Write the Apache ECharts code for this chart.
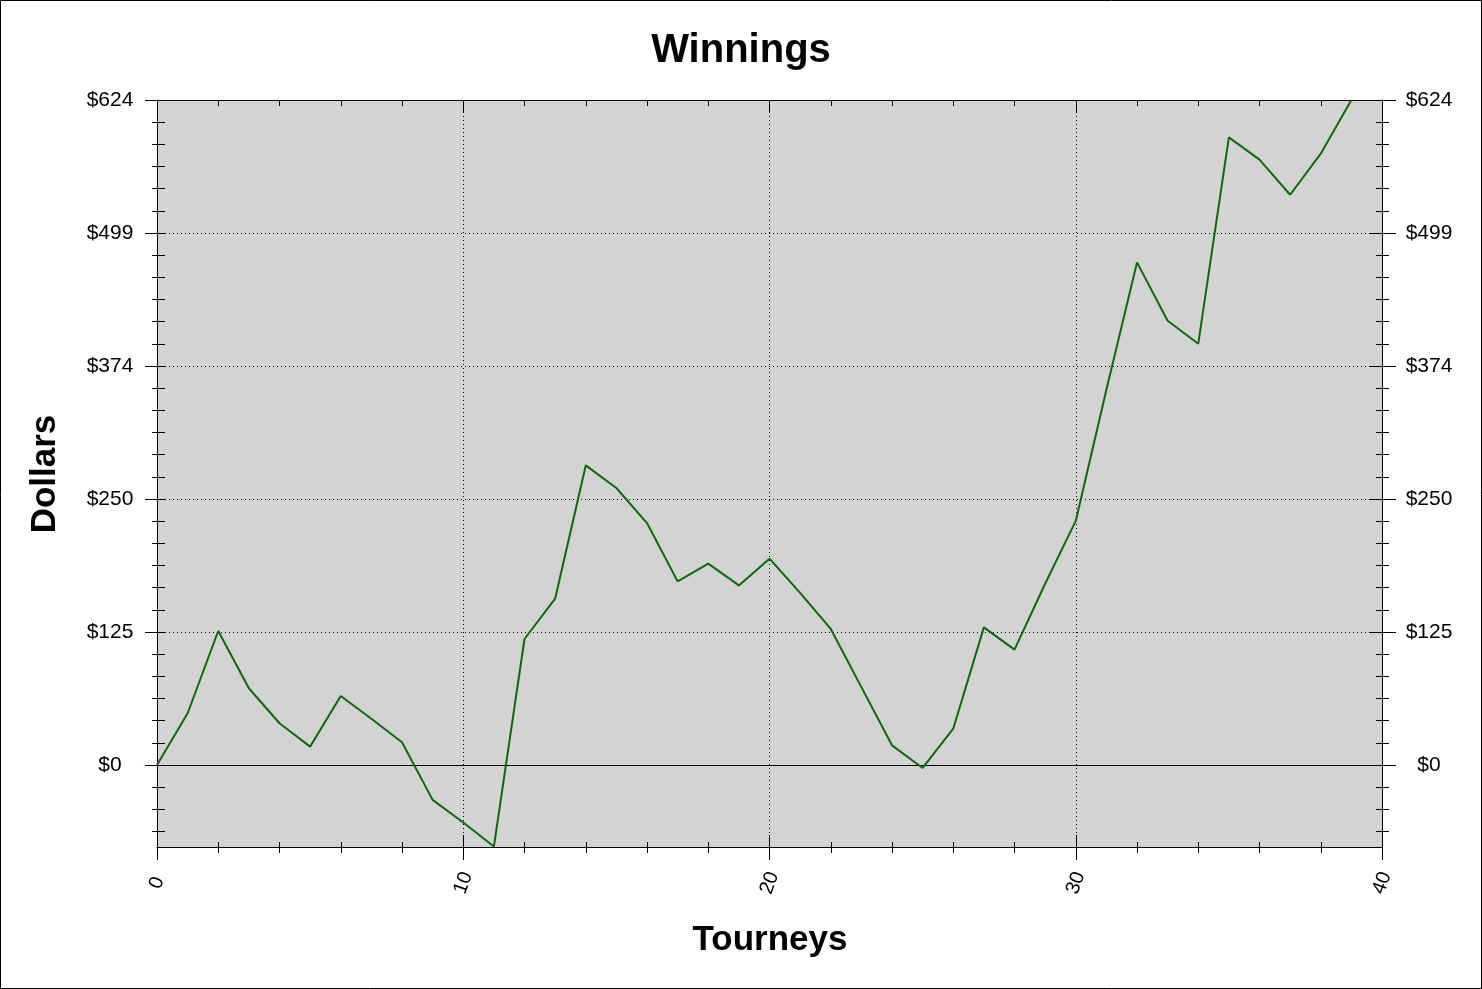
<!DOCTYPE html>
<html>
<head>
<meta charset="utf-8">
<script src="https://cdn.jsdelivr.net/npm/echarts@6/dist/echarts.min.js"></script>
<style>
html,body{margin:0;padding:0;background:#fff;}
#chart{width:1482px;height:989px;}
</style>
</head>
<body>
<div id="chart"></div>
<script>
// ---- data ----
const tourneys = [0,1,2,3,4,5,6,7,8,9,10,11,12,13,14,15,16,17,18,19,20,21,22,23,24,25,26,27,28,29,30,31,32,33,34,35,36,37,38,39];
const winnings = [0,48.5,125.7,72,39.1,17.2,64.7,43.3,21.3,-32.8,-54,-76.6,118.2,156,281.1,259.9,227,172.3,188.9,168.5,193.6,161.4,127.6,73,18.4,-2.8,34,129.1,108.2,170,229,352,471.6,416.9,395.3,588.9,568,535.1,573.6,624];
const yTickValues = [0,124.8,249.6,374.4,499.2,624];
const yTickLabels = ['$0','$125','$250','$374','$499','$624'];
const yMin = -77, yMax = 624;
const yMinorStep = 20.8;
const xMin = 0, xMax = 40, xMajor = 10, xMinor = 2;

const yMinorValues = [];
for (let k = Math.ceil(yMin / yMinorStep); k * yMinorStep <= yMax + 1e-6; k++) {
  if (k % 6 !== 0) yMinorValues.push(+(k * yMinorStep).toFixed(2));
}
const FONT = 'Arial, "Liberation Sans", sans-serif';
const lblFmt = v => {
  let best = 0, bd = Infinity;
  yTickValues.forEach((t, i) => { const d = Math.abs(t - v); if (d < bd) { bd = d; best = i; } });
  return yTickLabels[best];
};

function yAx(pos, opts) {
  return Object.assign({
    type: 'value', position: pos, min: yMin, max: yMax,
    axisLine: { show: false, onZero: false },
    axisLabel: { show: false },
    splitLine: { show: false },
    axisTick: { show: false }
  }, opts);
}
function xAx(pos, opts) {
  return Object.assign({
    type: 'value', position: pos, min: xMin, max: xMax,
    axisLine: { show: false, onZero: false },
    axisLabel: { show: false },
    splitLine: { show: false },
    axisTick: { show: false }
  }, opts);
}
const tickStyle = { color: '#000', width: 1 };

const yAxes = [
  yAx('left', {
    axisLine: { show: true, onZero: false, lineStyle: { color: '#000', width: 1 } },
    axisTick: { show: true, inside: false, length: 12, customValues: yTickValues, lineStyle: tickStyle },
    axisLabel: { show: true, customValues: yTickValues, formatter: lblFmt, color: '#000', fontSize: 21, fontFamily: FONT, align: 'center', margin: 47 },
    splitLine: { show: true, lineStyle: { color: '#000', width: 1, type: [1, 3] } }
  }),
  yAx('left', { axisTick: { show: true, inside: true, length: 8, customValues: yTickValues, lineStyle: tickStyle } }),
  yAx('left', { axisTick: { show: true, inside: false, length: 5, customValues: yMinorValues, lineStyle: tickStyle } }),
  yAx('left', { axisTick: { show: true, inside: true, length: 8, customValues: yMinorValues, lineStyle: tickStyle } }),
  yAx('right', {
    axisLine: { show: true, onZero: false, lineStyle: { color: '#000', width: 1 } },
    axisTick: { show: true, inside: false, length: 14, customValues: yTickValues, lineStyle: tickStyle },
    axisLabel: { show: true, customValues: yTickValues, formatter: lblFmt, color: '#000', fontSize: 21, fontFamily: FONT, align: 'center', margin: 47 }
  }),
  yAx('right', { axisTick: { show: true, inside: true, length: 12, customValues: yTickValues, lineStyle: tickStyle } }),
  yAx('right', { axisTick: { show: true, inside: false, length: 7, customValues: yMinorValues, lineStyle: tickStyle } }),
  yAx('right', { axisTick: { show: true, inside: true, length: 6, customValues: yMinorValues, lineStyle: tickStyle } })
];

const xAxes = [
  xAx('bottom', {
    interval: xMajor,
    axisLine: { show: true, onZero: false, lineStyle: { color: '#000', width: 1 } },
    axisTick: { show: true, inside: false, length: 13, lineStyle: tickStyle },
    axisLabel: { show: true, color: '#000', fontSize: 20, fontFamily: FONT, rotate: 70, align: 'center', verticalAlign: 'middle', margin: 36 },
    splitLine: { show: true, lineStyle: { color: '#000', width: 1, type: [1, 3] } }
  }),
  xAx('bottom', { interval: xMajor, axisTick: { show: true, inside: true, length: 12, lineStyle: tickStyle } }),
  xAx('bottom', { interval: xMinor, axisTick: { show: true, inside: false, length: 6, lineStyle: tickStyle } }),
  xAx('bottom', { interval: xMinor, axisTick: { show: true, inside: true, length: 5, lineStyle: tickStyle } }),
  xAx('top', {
    interval: xMajor,
    axisLine: { show: true, onZero: false, lineStyle: { color: '#000', width: 1 } },
    axisTick: { show: true, inside: true, length: 13, lineStyle: tickStyle }
  }),
  xAx('top', { interval: xMinor, axisTick: { show: true, inside: true, length: 6, lineStyle: tickStyle } })
];

const chart = echarts.init(document.getElementById('chart'), null, { renderer: 'canvas' });
chart.setOption({
  animation: false,
  backgroundColor: '#fff',
  title: {
    text: 'Winnings', left: 'center', top: 26,
    textStyle: { fontSize: 40, fontWeight: 'bold', color: '#000', fontFamily: FONT }
  },
  grid: {
    left: 157, top: 100, right: 100, bottom: 142,
    show: true, backgroundColor: '#d3d3d3', borderWidth: 0, containLabel: false
  },
  xAxis: xAxes,
  yAxis: yAxes,
  graphic: [
    { type: 'rect', shape: { x: 0.5, y: 0.5, width: 1481, height: 988 }, style: { fill: 'none', stroke: '#000', lineWidth: 1 }, z: 100, silent: true },
    { type: 'text', x: 770, y: 940, style: { text: 'Tourneys', font: 'bold 35px ' + FONT, fill: '#000', textAlign: 'center', textVerticalAlign: 'middle' }, silent: true },
    { type: 'text', x: 45, y: 474, rotation: Math.PI / 2, style: { text: 'Dollars', font: 'bold 35px ' + FONT, fill: '#000', textAlign: 'center', textVerticalAlign: 'middle' }, silent: true }
  ],
  series: [{
    type: 'line',
    xAxisIndex: 0, yAxisIndex: 0,
    data: tourneys.map((t, i) => [t, winnings[i]]),
    showSymbol: false,
    lineStyle: { color: '#0b6b0b', width: 2 },
    itemStyle: { color: '#0b6b0b' },
    z: 5,
    markLine: {
      silent: true, symbol: 'none', animation: false,
      label: { show: false },
      lineStyle: { color: '#000', width: 1, type: 'solid' },
      data: [{ yAxis: 0 }],
      z: 3
    }
  }]
});
</script>
</body>
</html>
